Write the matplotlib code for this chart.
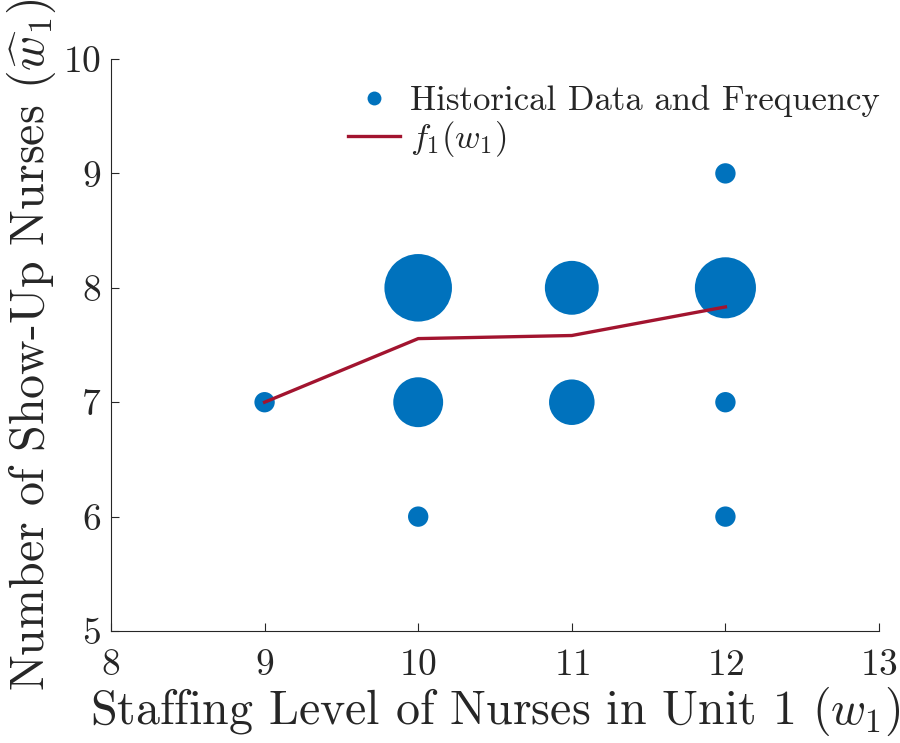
import matplotlib
matplotlib.use("Agg")
import matplotlib.pyplot as plt
from matplotlib.lines import Line2D
import numpy as np

plt.rcParams['font.family'] = 'serif'
plt.rcParams['font.serif'] = ['cmr10']
plt.rcParams['mathtext.fontset'] = 'cm'
plt.rcParams['axes.formatter.use_mathtext'] = True

# Historical data (staffing level, show-up nurses, frequency)
staffing = [9, 10, 10, 10, 11, 11, 12, 12, 12, 12]
showup = [7, 6, 7, 8, 7, 8, 6, 7, 8, 9]
frequency = [1, 1, 6, 11, 5, 7, 1, 1, 9, 1]

# f1(w1)
f_levels = [9, 10, 11, 12]
f_values = [7.0, 7.556, 7.583, 7.833]

xticks = [8, 9, 10, 11, 12, 13]
yticks = [5, 6, 7, 8, 9, 10]

blue = '#0072BD'
red = '#A2142F'
dark = '#262626'

fig = plt.figure(figsize=(9, 7.43), dpi=100)
ax = fig.add_axes([0.1233, 0.1507, 0.8534, 0.7699])

ax.scatter(staffing, showup, s=np.array(frequency) * 215, color=blue,
           edgecolors='none', zorder=2)
ax.plot(f_levels, f_values, color=red, lw=2.4, zorder=3)

ax.set_xlim(8, 13)
ax.set_ylim(5, 10)
ax.set_xticks(xticks)
ax.set_yticks(yticks)
ax.spines['top'].set_visible(False)
ax.spines['right'].set_visible(False)
for s in ['left', 'bottom']:
    ax.spines[s].set_color(dark)
    ax.spines[s].set_linewidth(0.8)
ax.tick_params(direction='in', length=6, width=0.8, colors=dark,
               labelsize=27)
ax.tick_params(axis='x', pad=13)
ax.tick_params(axis='y', pad=7)
ax.set_xlabel(r'Staffing Level of Nurses in Unit 1 $(w_1)$', fontsize=34.5,
              color=dark, labelpad=2)
ax.set_ylabel(r'Number of Show-Up Nurses $(\widehat{w}_1)$', fontsize=34.5,
              color=dark, labelpad=4)

handles = [
    Line2D([], [], marker='o', linestyle='none', color=blue, markersize=10,
           markeredgewidth=0),
    Line2D([], [], color=red, lw=2.4),
]
labels = ['Historical Data and Frequency', r'$f_1(w_1)$']
fig.legend(handles, labels, loc='upper right',
           bbox_to_anchor=(880 / 900, 1 - 85 / 743),
           frameon=False, fontsize=25, handlelength=1.5, handletextpad=0.3,
           labelspacing=0.05, borderpad=0.0, borderaxespad=0.0,
           labelcolor=dark)

fig.savefig('out.png', dpi=100)
